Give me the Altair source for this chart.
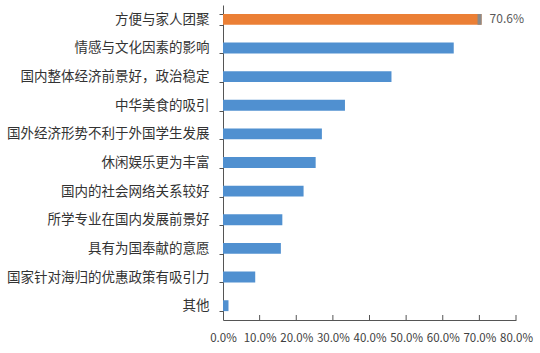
import altair as alt
import pandas as pd

categories = [
    "方便与家人团聚",
    "情感与文化因素的影响",
    "国内整体经济前景好，政治稳定",
    "中华美食的吸引",
    "国外经济形势不利于外国学生发展",
    "休闲娱乐更为丰富",
    "国内的社会网络关系较好",
    "所学专业在国内发展前景好",
    "具有为国奉献的意愿",
    "国家针对海归的优惠政策有吸引力",
    "其他",
]
values = [0.706, 0.630, 0.460, 0.333, 0.270, 0.253, 0.220, 0.162, 0.158, 0.088, 0.015]
highlight = [True] + [False] * 10
tick_values = [0.0, 0.1, 0.2, 0.3, 0.4, 0.5, 0.6, 0.7, 0.8]

df = pd.DataFrame({"cat": categories, "val": values, "hl": highlight})
df_ticks = pd.DataFrame({"t": tick_values[1:]})

FONT = "Noto Sans CJK SC"
W, H = 293, 315
AXIS_COLOR = "#555555"

xscale = alt.Scale(domain=[0, 0.8], nice=False)
yscale = alt.Scale(domain=categories, paddingInner=0.62, paddingOuter=0.31)

xaxis = alt.Axis(values=tick_values, format=".1%", title=None, grid=False,
                 ticks=False, domainColor=AXIS_COLOR, labelColor="#404040",
                 labelFont=FONT, labelFontSize=11.5, labelPadding=12,
                 labelOverlap=False, labelFlush=False)
yaxis = alt.Axis(title=None, tickBand="extent", tickSize=4, tickColor=AXIS_COLOR,
                 domainColor=AXIS_COLOR, labelColor="#333333", labelFont=FONT,
                 labelFontSize=13.5, labelPadding=10, labelLimit=230, grid=False)

bars = alt.Chart(df).mark_bar().encode(
    x=alt.X("val:Q", scale=xscale, axis=xaxis),
    y=alt.Y("cat:N", scale=yscale, sort=categories, axis=yaxis),
    color=alt.Color("hl:N", scale=alt.Scale(domain=[True, False], range=["#EB7F35", "#5090D0"]),
                    legend=None),
)

cap = alt.Chart(df[df["hl"]]).transform_calculate(v0="datum.val - 0.011").mark_bar(
    color="#8a8a8a").encode(
    x=alt.X("v0:Q", scale=xscale, axis=xaxis), x2="val:Q",
    y=alt.Y("cat:N", scale=yscale, sort=categories, axis=yaxis),
)

label = alt.Chart(df[df["hl"]]).mark_text(
    align="left", dx=8, font=FONT, fontSize=12, color="#595959").encode(
    x=alt.X("val:Q", scale=xscale, axis=xaxis),
    y=alt.Y("cat:N", scale=yscale, sort=categories, axis=yaxis),
    text=alt.Text("val:Q", format=".1%"),
)

ticks = alt.Chart(df_ticks).mark_rule(color=AXIS_COLOR).encode(
    x=alt.X("t:Q", scale=xscale, axis=xaxis),
    y=alt.value(H - 5), y2=alt.value(H),
)

chart = alt.layer(bars, cap, label, ticks).properties(
    width=W, height=H,
    padding={"left": 223, "top": 5, "right": 24, "bottom": 33},
    autosize="none",
).configure(background="white").configure_view(stroke=None).configure_axisX(labelOverlap=False)

chart.save("out.html", embed_options={"renderer": "svg", "actions": False})
